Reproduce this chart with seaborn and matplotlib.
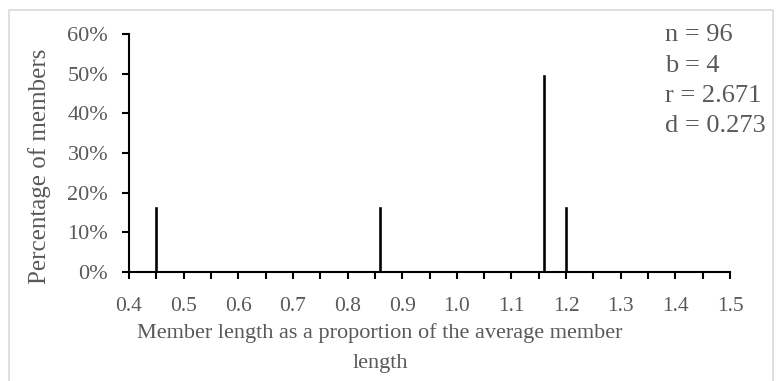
import matplotlib
matplotlib.use("Agg")
import matplotlib.pyplot as plt
import matplotlib.ticker as mticker
from matplotlib.patches import Rectangle
import seaborn as sns

# relative member length vs share of members
lengths = [0.45, 0.86, 1.16, 1.20]
shares = [0.1667, 0.1667, 0.50, 0.1667]
stats_text = ["n = 96", "b = 4", "r = 2.671", "d = 0.273"]
x_label = "Member length as a proportion of the average member\nlength"
y_label = "Percentage of members"

sns.set_style("white")
plt.rcParams['font.family'] = ['Liberation Serif', 'DejaVu Serif']

grey = "#595959"

fig = plt.figure(figsize=(7.76, 3.81), dpi=100)
ax = fig.add_axes([129 / 776, 1 - 272 / 381, 601 / 776, 238 / 381])

sns.barplot(x=lengths, y=shares, native_scale=True, width=0.18,
            color="black", saturation=1, ax=ax)

ax.set_xlim(0.4, 1.5)
ax.set_ylim(0, 0.6)
ax.xaxis.set_major_locator(mticker.MultipleLocator(0.1))
ax.xaxis.set_minor_locator(mticker.MultipleLocator(0.05))
ax.xaxis.set_major_formatter(mticker.FormatStrFormatter('%.1f'))
ax.yaxis.set_major_locator(mticker.MultipleLocator(0.1))
ax.yaxis.set_major_formatter(mticker.PercentFormatter(1.0, decimals=0))

for side in ['top', 'right']:
    ax.spines[side].set_visible(False)
for side in ['left', 'bottom']:
    ax.spines[side].set_color("black")
    ax.spines[side].set_linewidth(1.5)

ax.tick_params(axis='both', which='both', direction='out', length=5,
               width=1.5, color='black', labelcolor=grey)
ax.tick_params(axis='x', which='both', bottom=True, labelsize=15.5, pad=13)
ax.tick_params(axis='y', left=True, labelsize=16, pad=10)

ax.set_xlabel(x_label, fontsize=16, color=grey, linespacing=1.75)
ax.xaxis.label.set_va('center')
ax.xaxis.set_label_coords((380 - 129) / 601, (272 - 348) / 238)

ax.set_ylabel(y_label, fontsize=18, color=grey)
ax.yaxis.label.set_va('center')
ax.yaxis.label.set_ha('center')
ax.yaxis.set_label_coords(-(129 - 40) / 601, (272 - 166) / 238)

ax.text(665 / 776, 1 - 24 / 381, "\n".join(stats_text), transform=fig.transFigure,
        fontsize=19, color=grey, va='top', ha='left', linespacing=1.5)

fig.patches.append(Rectangle((9 / 776, -0.05), 764 / 776, 1 - 10 / 381 + 0.05,
                             transform=fig.transFigure, fill=False,
                             edgecolor="#d9d9d9", linewidth=1.2))

fig.savefig("out.png", dpi=100)
